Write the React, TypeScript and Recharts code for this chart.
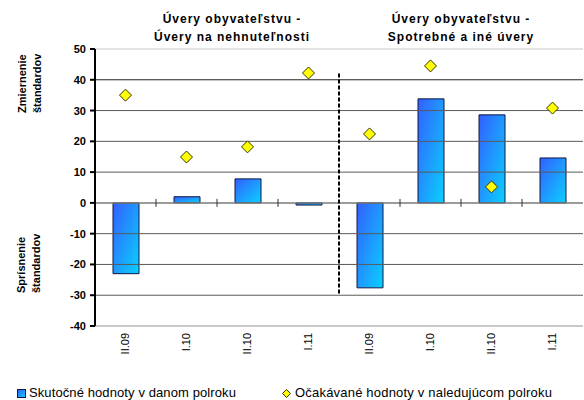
import React from 'react';
import { ComposedChart, Bar, Scatter, XAxis, YAxis, ReferenceLine } from 'recharts';

const categories = ['II.09', 'I.10', 'II.10', 'I.11', 'II.09', 'I.10', 'II.10', 'I.11'];
const actualValues = [-23, 2, 7.8, -0.7, -27.6, 33.8, 28.6, 14.6];
const expectedValues = [35, 14.9, 18.2, 42.2, 22.4, 44.5, 5.2, 30.8];
const yTicks = [-40, -30, -20, -10, 0, 10, 20, 30, 40, 50];
const innerGrid = [-30, -20, -10, 10, 20, 30, 40];
const categoryBoundaries = [1, 2, 3, 5, 6, 7];
const dividerAt = 4;
const dividerRange = [42, -30];
const titleLeft = ['Úvery obyvateľstvu -', 'Úvery na nehnuteľnosti'];
const titleRight = ['Úvery obyvateľstvu -', 'Spotrebné a iné úvery'];
const legendLabels = ['Skutočné hodnoty v danom polroku', 'Očakávané hodnoty v naledujúcom polroku'];

const data = categories.map((c, i) => ({ pos: i + 0.5, cat: c, actual: actualValues[i], expected: expectedValues[i] }));
const xTicks = data.map((d) => d.pos);

const FONT = 'Arial, "Liberation Sans", sans-serif';

const Diamond = (props: any) => {
  const { cx, cy } = props;
  if (cx == null || cy == null) return null;
  const r = 6;
  return (
    <polygon
      points={`${cx},${cy - r} ${cx + r},${cy} ${cx},${cy + r} ${cx - r},${cy}`}
      fill="#ffff00"
      stroke="#333300"
      strokeWidth={1}
    />
  );
};

const XTick = (props: any) => {
  const { x, y, payload } = props;
  const idx = Math.floor(payload.value);
  const label = categories[idx] ?? '';
  return (
    <text
      x={0}
      y={0}
      transform={`translate(${x + 3},${y - 1}) rotate(-90)`}
      textAnchor="end"
      fontFamily={FONT}
      fontSize={11}
      fill="#000"
    >
      {label}
    </text>
  );
};

const YTick = (props: any) => {
  const { x, y, payload } = props;
  return (
    <text x={x - 2} y={y + 4} textAnchor="end" fontFamily={FONT} fontSize={11} fontWeight="bold" fill="#000">
      {payload.value}
    </text>
  );
};

export default function App() {
  return (
    <div style={{ position: 'absolute', left: 0, top: 0, width: 584, height: 400, background: '#fff', fontFamily: FONT }}>
      <ComposedChart
        width={584}
        height={400}
        data={data}
        margin={{ top: 49, right: 1, bottom: 0, left: 60 }}
      >
        <defs>
          <linearGradient id="barGrad" x1="0" y1="0" x2="1" y2="1">
            <stop offset="0%" stopColor="#3360ff" />
            <stop offset="100%" stopColor="#0ad0ff" />
          </linearGradient>
        </defs>
        <XAxis
          dataKey="pos"
          type="number"
          domain={[0, 8]}
          ticks={xTicks}
          allowDataOverflow
          height={74}
          axisLine={false}
          tickLine={false}
          tick={<XTick />}
          interval={0}
        />
        <YAxis
          domain={[-40, 50]}
          ticks={yTicks}
          width={35}
          interval={0}
          axisLine={{ stroke: '#000', strokeWidth: 2 }}
          tickLine={{ stroke: '#000', strokeWidth: 2 }}
          tickSize={5}
          tick={<YTick />}
        />
        {innerGrid.map((g) => (
          <ReferenceLine key={g} y={g} stroke={g === 40 ? '#222' : '#5a5a5a'} strokeWidth={1} />
        ))}
        <ReferenceLine y={50} stroke="#c8c8c8" strokeWidth={1} />
        <ReferenceLine y={-40} stroke="#c8c8c8" strokeWidth={2} />
        <ReferenceLine y={0} stroke="#7a7a7a" strokeWidth={1.5} />
        {categoryBoundaries.map((b) => (
          <ReferenceLine
            key={b}
            segment={[{ x: b, y: 1.3 }, { x: b, y: -1.3 }]}
            stroke="#333"
            strokeWidth={1}
          />
        ))}
        <ReferenceLine
          segment={[{ x: dividerAt, y: dividerRange[0] }, { x: dividerAt, y: dividerRange[1] }]}
          stroke="#000"
          strokeWidth={2}
          strokeDasharray="4 2"
        />
        <Bar
          dataKey="actual"
          barSize={26}
          fill="url(#barGrad)"
          stroke="#101840"
          strokeWidth={1}
          isAnimationActive={false}
        />
        <Scatter dataKey="expected" shape={<Diamond />} isAnimationActive={false} />
      </ComposedChart>

      {[titleLeft, titleRight].map((t, i) => (
        <div
          key={i}
          style={{
            position: 'absolute',
            left: i === 0 ? 132 : 361,
            top: 10,
            width: 200,
            textAlign: 'center',
            fontSize: 12,
            fontWeight: 'bold',
            letterSpacing: 1,
            lineHeight: '18px',
            color: '#000',
          }}
        >
          <div>{t[0]}</div>
          <div>{t[1]}</div>
        </div>
      ))}

      <svg style={{ position: 'absolute', left: 0, top: 0 }} width={60} height={340}>
        <defs>
          <clipPath id="ylabclip">
            <rect x={0} y={44} width={60} height={80} />
          </clipPath>
        </defs>
        <g clipPath="url(#ylabclip)">
          <text transform="translate(26,113) rotate(-90)" fontFamily={FONT} fontSize={11} fontWeight="bold" fill="#000">Zmiernenie</text>
          <text transform="translate(41,113) rotate(-90)" fontFamily={FONT} fontSize={11} fontWeight="bold" fill="#000">štandardov</text>
        </g>
        <text transform="translate(25,293) rotate(-90)" fontFamily={FONT} fontSize={11} fontWeight="bold" fill="#000">Sprísnenie</text>
        <text transform="translate(40,293) rotate(-90)" fontFamily={FONT} fontSize={11} fontWeight="bold" fill="#000">štandardov</text>
      </svg>

      <div style={{ position: 'absolute', left: 17, top: 385, fontSize: 13, letterSpacing: 0.1, color: '#000', display: 'flex', alignItems: 'center', whiteSpace: 'nowrap', lineHeight: '16px' }}>
        <svg width={9} height={9} style={{ marginRight: 3 }}>
          <defs>
            <linearGradient id="legGrad" x1="0" y1="0" x2="1" y2="1">
              <stop offset="0%" stopColor="#3360ff" />
              <stop offset="100%" stopColor="#0ad0ff" />
            </linearGradient>
          </defs>
          <rect x={0.5} y={0.5} width={8} height={8} fill="url(#legGrad)" stroke="#101840" strokeWidth={1} />
        </svg>
        <span>{legendLabels[0]}</span>
      </div>
      <div style={{ position: 'absolute', left: 282, top: 385, fontSize: 13, letterSpacing: 0.2, color: '#000', display: 'flex', alignItems: 'center', whiteSpace: 'nowrap', lineHeight: '16px' }}>
        <svg width={9} height={9} style={{ marginRight: 4 }}>
          <polygon points="4.5,0.5 8.5,4.5 4.5,8.5 0.5,4.5" fill="#ffff00" stroke="#333300" strokeWidth={1} />
        </svg>
        <span>{legendLabels[1]}</span>
      </div>
    </div>
  );
}
